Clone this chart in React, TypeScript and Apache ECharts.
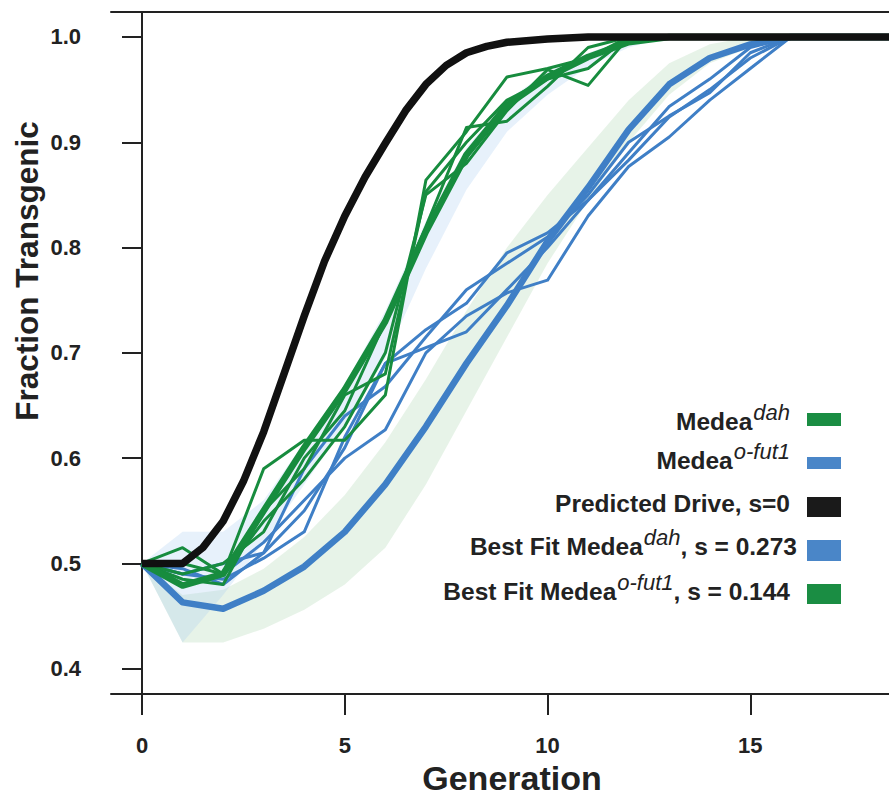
import React, { useEffect, useRef } from "react";
import * as echarts from "echarts";

// ---------- data ----------
const yTicks = [0.4, 0.5, 0.6, 0.7, 0.8, 0.9, 1.0];
const xTicks = [0, 5, 10, 15];

const predictedGen = [0, 1, 1.5, 2, 2.5, 3, 3.5, 4, 4.5, 5, 5.5, 6, 6.5, 7, 7.5, 8, 8.5, 9, 10, 11, 19];
const predictedVal = [0.5, 0.5, 0.515, 0.54, 0.578, 0.625, 0.68, 0.735, 0.787, 0.83, 0.867, 0.899, 0.93, 0.955, 0.973, 0.985, 0.991, 0.995, 0.998, 1.0, 1.0];

const fitGen = [0, 1, 2, 3, 4, 5, 6, 7, 8, 9, 10, 11, 12, 13, 14, 15, 16, 17, 18, 19];
const fitDah = [0.5, 0.479, 0.49, 0.55, 0.61, 0.665, 0.73, 0.815, 0.888, 0.935, 0.962, 0.981, 0.995, 1, 1, 1, 1, 1, 1, 1];
const fitOfut = [0.5, 0.463, 0.457, 0.474, 0.497, 0.53, 0.575, 0.63, 0.69, 0.745, 0.806, 0.857, 0.912, 0.955, 0.98, 0.993, 1, 1, 1, 1];

const bandDahLow = [0.5, 0.425, 0.47, 0.52, 0.575, 0.63, 0.695, 0.78, 0.855, 0.91, 0.945, 0.972, 0.99, 1, 1, 1, 1, 1, 1, 1];
const bandDahHigh = [0.5, 0.53, 0.53, 0.56, 0.615, 0.67, 0.74, 0.825, 0.895, 0.94, 0.967, 0.985, 0.998, 1, 1, 1, 1, 1, 1, 1];
const bandOfutLow = [0.5, 0.425, 0.425, 0.438, 0.456, 0.48, 0.515, 0.575, 0.645, 0.715, 0.785, 0.845, 0.9, 0.945, 0.975, 0.99, 1, 1, 1, 1];
const bandOfutHigh = [0.5, 0.47, 0.475, 0.495, 0.525, 0.565, 0.615, 0.675, 0.74, 0.8, 0.85, 0.895, 0.94, 0.975, 0.993, 1, 1, 1, 1, 1];

const repGen = [0, 1, 2, 3, 4, 5, 6, 7, 8, 9, 10, 11, 12, 13, 14, 15, 16, 17];
const dahRep1 = [0.5, 0.515, 0.49, 0.59, 0.617, 0.617, 0.66, 0.864, 0.91, 0.962, 0.97, 0.98, 1, 1, 1, 1];
const dahRep2 = [0.5, 0.5, 0.49, 0.54, 0.58, 0.63, 0.7, 0.85, 0.88, 0.93, 0.969, 0.954, 1, 1, 1, 1];
const dahRep3 = [0.5, 0.49, 0.5, 0.53, 0.6, 0.645, 0.73, 0.82, 0.914, 0.92, 0.953, 0.99, 1, 1, 1, 1];
const dahRep4 = [0.5, 0.485, 0.48, 0.55, 0.59, 0.66, 0.68, 0.853, 0.9, 0.94, 0.96, 0.97, 1, 1, 1, 1];
const ofutRep1 = [0.5, 0.49, 0.485, 0.505, 0.53, 0.62, 0.69, 0.722, 0.747, 0.795, 0.814, 0.845, 0.89, 0.934, 0.96, 0.99, 1, 1];
const ofutRep2 = [0.5, 0.495, 0.48, 0.51, 0.59, 0.64, 0.668, 0.715, 0.76, 0.785, 0.81, 0.85, 0.9, 0.925, 0.947, 0.985, 1, 1];
const ofutRep3 = [0.5, 0.48, 0.49, 0.52, 0.56, 0.6, 0.627, 0.7, 0.735, 0.757, 0.769, 0.83, 0.877, 0.905, 0.94, 0.97, 1, 1];
const ofutRep4 = [0.5, 0.49, 0.5, 0.51, 0.55, 0.61, 0.69, 0.705, 0.72, 0.76, 0.8, 0.845, 0.883, 0.924, 0.95, 0.98, 1, 1];

const legendItems = [
  { main: "Medea", sup: "dah", tail: "", color: "#1a8d43" },
  { main: "Medea", sup: "o-fut1", tail: "", color: "#4a86c8" },
  { main: "Predicted Drive, s=0", sup: "", tail: "", color: "#1a1a1a" },
  { main: "Best Fit Medea", sup: "dah", tail: ", s = 0.273", color: "#4a86c8" },
  { main: "Best Fit Medea", sup: "o-fut1", tail: ", s = 0.144", color: "#1a8d43" },
];

// ---------- styles ----------
const GREEN = "#178c3e";
const BLUE = "#3f7fc6";
const BLACK = "#111111";
const INK = "#222222";
const FONT = "'Liberation Sans', Arial, sans-serif";
const MAIN_SIZE = 24.5;
const SUP_SIZE = 22;

const pairs = (xs: number[], ys: number[]) => ys.map((y, i) => [xs[i], y]);

function measure(text: string, font: string) {
  const c = document.createElement("canvas").getContext("2d");
  if (!c) return text.length * 12;
  c.font = font;
  return c.measureText(text).width;
}

function bandSeries(name: string, low: number[], high: number[], fill: string) {
  return {
    type: "custom",
    name,
    clip: true,
    silent: true,
    z: 1,
    data: [[fitGen[0], low[0]]],
    renderItem: (params: any, api: any) => {
      const pts: number[][] = [];
      for (let i = 0; i < fitGen.length; i++) pts.push(api.coord([fitGen[i], high[i]]));
      for (let i = fitGen.length - 1; i >= 0; i--) pts.push(api.coord([fitGen[i], low[i]]));
      return { type: "polygon", shape: { points: pts }, style: { fill } };
    },
  };
}

function lineSeries(name: string, xs: number[], ys: number[], color: string, width: number, z: number) {
  return {
    type: "line",
    name,
    data: pairs(xs, ys),
    symbol: "none",
    z,
    lineStyle: { color, width, join: "round" },
    silent: true,
  };
}

export default function App() {
  const ref = useRef<HTMLDivElement>(null);
  useEffect(() => {
    if (!ref.current) return;
    const chart = echarts.init(ref.current, undefined, { renderer: "svg" });

    const mainFont = `bold ${MAIN_SIZE}px 'Liberation Sans', Arial, sans-serif`;
    const supFont = `italic ${SUP_SIZE}px 'Liberation Sans', Arial, sans-serif`;
    const legendGraphics: any[] = [];
    const boxTops = [413, 457, 497, 540, 584];
    const boxHeights = [13, 12, 20, 21, 20];
    const baselines = [434, 473, 516, 559, 604];
    const rightEdges = [790, 790, 790, 797, 790];
    legendItems.forEach((it, i) => {
      let x = rightEdges[i];
      const base = baselines[i];
      const pieces: any[] = [];
      if (it.tail) {
        pieces.push({ t: it.tail, x, y: base, sup: false });
        x -= measure(it.tail, mainFont);
      }
      if (it.sup) {
        pieces.push({ t: it.sup, x, y: base - 11, sup: true });
        x -= measure(it.sup, supFont) + 1;
      }
      pieces.push({ t: it.main, x, y: base, sup: false });
      pieces.forEach((p) => {
        legendGraphics.push({
          type: "text",
          x: p.x,
          y: p.y,
          style: {
            text: p.t,
            fontFamily: FONT,
            fontWeight: p.sup ? "normal" : "bold",
            fontStyle: p.sup ? "italic" : "normal",
            fontSize: p.sup ? SUP_SIZE : MAIN_SIZE,
            fill: INK,
            textAlign: "right",
            textVerticalAlign: "bottom",
          },
        });
      });
      legendGraphics.push({
        type: "rect",
        shape: { x: 807, y: boxTops[i], width: 34, height: boxHeights[i] },
        style: { fill: it.color },
      });
    });

    const axisLineStyle = { color: INK, width: 2 };
    chart.setOption({
      animation: false,
      grid: { left: 111, top: 12, width: 778, height: 682 },
      xAxis: [
        {
          type: "value",
          min: -0.765,
          max: 18.42,
          axisLine: { show: true, lineStyle: axisLineStyle },
          splitLine: { show: false },
          axisTick: { show: true, customValues: xTicks, length: 21, lineStyle: axisLineStyle },
          axisLabel: { customValues: xTicks, margin: 40, fontFamily: FONT, fontWeight: "bold", fontSize: 22, color: INK },
        },
        {
          type: "value",
          position: "top",
          min: -0.765,
          max: 18.42,
          axisLine: { show: true, lineStyle: axisLineStyle },
          splitLine: { show: false },
          axisTick: { show: false },
          axisLabel: { show: false },
        },
      ],
      yAxis: {
        type: "value",
        min: 0.376,
        max: 1.0237,
        axisLine: { show: true, lineStyle: axisLineStyle },
        splitLine: { show: false },
        axisTick: { show: true, customValues: yTicks, length: 20, lineStyle: axisLineStyle },
        axisLabel: {
          customValues: yTicks,
          margin: 30,
          fontFamily: FONT,
          fontWeight: "bold",
          fontSize: 22,
          color: INK,
          formatter: (v: number) => v.toFixed(1),
        },
      },
      graphic: [
        {
          type: "text",
          x: 512,
          y: 778,
          style: {
            text: "Generation",
            fontFamily: FONT,
            fontWeight: "bold",
            fontSize: 34,
            fill: INK,
            textAlign: "center",
            textVerticalAlign: "middle",
          },
        },
        {
          type: "text",
          x: 27,
          y: 271,
          rotation: Math.PI / 2,
          style: {
            text: "Fraction Transgenic",
            fontFamily: FONT,
            fontWeight: "bold",
            fontSize: 31.5,
            fill: INK,
            textAlign: "center",
            textVerticalAlign: "middle",
          },
        },
        ...legendGraphics,
      ],
      series: [
        bandSeries("band o-fut1", bandOfutLow, bandOfutHigh, "rgba(175,215,180,0.30)"),
        bandSeries("band dah", bandDahLow, bandDahHigh, "rgba(170,205,240,0.28)"),
        lineSeries("Medea o-fut1 rep1", repGen, ofutRep1, BLUE, 3, 3),
        lineSeries("Medea o-fut1 rep2", repGen, ofutRep2, BLUE, 3, 3),
        lineSeries("Medea o-fut1 rep3", repGen, ofutRep3, BLUE, 3, 3),
        lineSeries("Medea o-fut1 rep4", repGen, ofutRep4, BLUE, 3, 3),
        lineSeries("Best Fit o-fut1", fitGen, fitOfut, BLUE, 6.5, 4),
        lineSeries("Medea dah rep1", repGen, dahRep1, GREEN, 3, 5),
        lineSeries("Medea dah rep2", repGen, dahRep2, GREEN, 3, 5),
        lineSeries("Medea dah rep3", repGen, dahRep3, GREEN, 3, 5),
        lineSeries("Medea dah rep4", repGen, dahRep4, GREEN, 3, 5),
        lineSeries("Best Fit dah", fitGen, fitDah, GREEN, 6.5, 6),
        lineSeries("Predicted Drive", predictedGen, predictedVal, BLACK, 7.5, 7),
      ],
    });
    return () => chart.dispose();
  }, []);
  return (
    <div
      ref={ref}
      style={{ position: "absolute", left: 0, top: 0, width: 889, height: 796, background: "#fff" }}
    />
  );
}
